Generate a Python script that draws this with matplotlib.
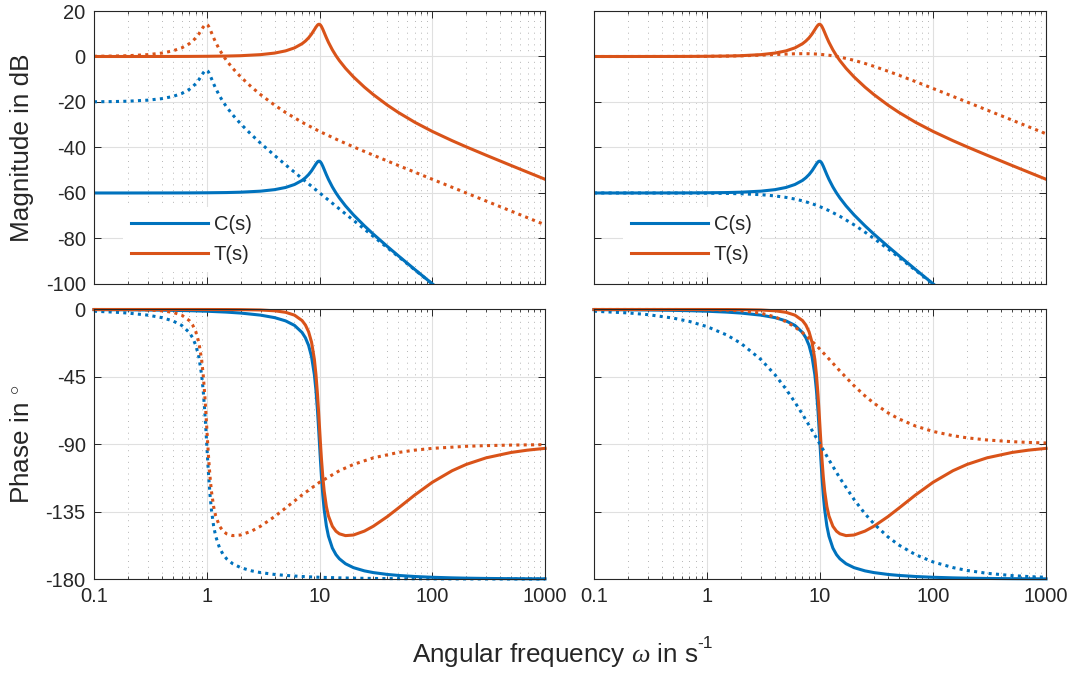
# Bode plots of C(s) and T(s), two parameter sets side by side
import numpy as np
import matplotlib
matplotlib.use('Agg')
from matplotlib import pyplot as plt
from matplotlib.ticker import FixedLocator, LogLocator, NullFormatter

# 1. Data
# solid curves (same in both columns), resonance at 10 rad/s
w_fast = [0.1, 0.2, 0.3, 0.5, 0.7, 1, 1.5, 2, 3, 4, 5, 6, 7, 7.5, 8, 8.5, 9, 9.3, 9.6, 9.8,
          10, 10.2, 10.4, 10.7, 11, 11.5, 12, 13, 14, 15, 17, 20, 25, 30, 40, 50, 70, 100,
          150, 200, 300, 500, 700, 1000]
C_mag = [-60.00, -60.00, -59.99, -59.98, -59.96, -59.91, -59.81, -59.65, -59.20, -58.53,
         -57.58, -56.27, -54.47, -53.30, -51.91, -50.25, -48.36, -47.23, -46.34, -46.02,
         -46.02, -46.36, -46.98, -48.25, -49.66, -51.96, -54.00, -57.35, -60.00, -62.18,
         -65.67, -69.62, -74.44, -78.09, -83.53, -87.61, -93.63, -99.92, -107.01, -112.02,
         -119.08, -127.96, -133.80, -140.00]
C_phase = [-0.11, -0.23, -0.34, -0.57, -0.81, -1.16, -1.76, -2.39, -3.77, -5.44,
           -7.60, -10.62, -15.35, -18.92, -23.96, -31.49, -43.45, -54.00, -67.79, -78.58,
           -90.00, -101.20, -111.42, -124.10, -133.67, -144.50, -151.39, -159.35, -163.74, -166.50,
           -169.80, -172.41, -174.56, -175.71, -176.95, -177.61, -178.33, -178.84, -179.23, -179.43,
           -179.62, -179.77, -179.84, -179.89]
T_mag = [0.00, 0.00, 0.01, 0.02, 0.04, 0.09, 0.20, 0.35, 0.82, 1.50,
         2.47, 3.79, 5.62, 6.80, 8.20, 9.87, 11.78, 12.92, 13.82, 14.15,
         14.15, 13.82, 13.20, 11.95, 10.54, 8.27, 6.24, 2.93, 0.33, -1.81,
         -5.19, -8.97, -13.47, -16.75, -21.39, -24.60, -28.92, -32.93, -37.01, -39.72,
         -43.39, -47.91, -50.86, -53.97]
T_phase = [0.00, 0.00, 0.00, 0.00, 0.00, -0.01, -0.04, -0.10, -0.34, -0.87,
           -1.88, -3.78, -7.38, -10.39, -14.87, -21.84, -33.25, -43.46, -56.92, -67.49,
           -78.69, -89.67, -99.67, -112.02, -121.26, -131.55, -137.89, -144.78, -148.10, -149.80,
           -151.02, -150.61, -148.00, -144.75, -138.29, -132.61, -123.87, -115.41, -107.67, -103.47,
           -99.08, -95.48, -93.93, -92.75]

# dotted curves, left column (resonance at 1 rad/s)
w_slow = [0.1, 0.15, 0.2, 0.3, 0.4, 0.5, 0.6, 0.7, 0.75, 0.8, 0.85, 0.9, 0.93, 0.96, 0.98,
          1.0, 1.02, 1.04, 1.07, 1.1, 1.15, 1.2, 1.3, 1.4, 1.5, 1.7, 2, 2.5, 3, 4,
          5, 7, 10, 15, 20, 30, 50, 70, 100, 200, 300, 500, 1000]
C1_mag = [-19.91, -19.81, -19.65, -19.20, -18.53, -17.58, -16.27, -14.47, -13.30, -11.91,
          -10.25, -8.36, -7.23, -6.34, -6.02, -6.02, -6.36, -6.98, -8.25, -9.66,
          -11.96, -14.00, -17.35, -20.00, -22.18, -25.67, -29.62, -34.44, -38.09, -43.53,
          -47.61, -53.63, -59.92, -67.01, -72.02, -79.08, -87.96, -93.80, -100.00, -112.04,
          -119.09, -127.96, -140.00]
C1_phase = [-1.16, -1.76, -2.39, -3.77, -5.44, -7.60, -10.62, -15.35, -18.92, -23.96,
            -31.49, -43.45, -54.00, -67.79, -78.58, -90.00, -101.20, -111.42, -124.10, -133.67,
            -144.50, -151.39, -159.35, -163.74, -166.50, -169.80, -172.41, -174.56, -175.71, -176.95,
            -177.61, -178.33, -178.84, -179.23, -179.43, -179.62, -179.77, -179.84, -179.89, -179.94,
            -179.96, -179.98, -179.99]
T1_mag = [0.09, 0.20, 0.35, 0.82, 1.50, 2.47, 3.79, 5.62, 6.80, 8.20,
          9.87, 11.78, 12.92, 13.82, 14.15, 14.15, 13.82, 13.20, 11.95, 10.54,
          8.27, 6.24, 2.93, 0.33, -1.81, -5.19, -8.97, -13.47, -16.75, -21.39,
          -24.60, -28.92, -32.93, -37.01, -39.72, -43.39, -47.91, -50.86, -53.97, -60.00,
          -63.52, -67.96, -73.98]
T1_phase = [-0.01, -0.04, -0.10, -0.34, -0.87, -1.88, -3.78, -7.38, -10.39, -14.87,
            -21.84, -33.25, -43.46, -56.92, -67.49, -78.69, -89.67, -99.67, -112.02, -121.26,
            -131.55, -137.89, -144.78, -148.10, -149.80, -151.02, -150.61, -148.00, -144.75, -138.29,
            -132.61, -123.87, -115.41, -107.67, -103.47, -99.08, -95.48, -93.93, -92.75, -91.37,
            -90.92, -90.55, -90.28]

# dotted curves, right column (well damped)
w_damp = [0.1, 0.2, 0.3, 0.5, 0.7, 1, 1.5, 2, 3, 4, 5, 6, 7, 8, 9, 10, 12, 15, 20, 25,
          30, 40, 50, 70, 100, 150, 200, 300, 500, 700, 1000]
C2_mag = [-60.00, -60.00, -60.01, -60.02, -60.04, -60.09, -60.19, -60.34, -60.75, -61.29,
          -61.94, -62.67, -63.46, -64.30, -65.15, -66.02, -67.75, -70.24, -73.98, -77.21,
          -80.00, -84.61, -88.30, -93.98, -100.09, -107.08, -112.06, -119.09, -127.96, -133.81,
          -140.00]
C2_phase = [-1.15, -2.29, -3.44, -5.72, -8.01, -11.42, -17.06, -22.62, -33.40, -43.60,
            -53.13, -61.93, -69.98, -77.32, -83.97, -90.00, -100.39, -112.62, -126.87, -136.40,
            -143.13, -151.93, -157.38, -163.74, -168.58, -172.37, -174.28, -176.18, -177.71, -178.36,
            -178.85]
T2_mag = [0.00, 0.00, 0.01, 0.02, 0.04, 0.08, 0.18, 0.30, 0.59, 0.86,
          1.07, 1.20, 1.25, 1.22, 1.12, 0.97, 0.55, -0.24, -1.68, -3.06,
          -4.32, -6.48, -8.26, -11.03, -14.06, -17.54, -20.02, -23.53, -27.96, -30.88,
          -33.98]
T2_phase = [0.00, 0.00, 0.00, -0.01, -0.04, -0.11, -0.36, -0.82, -2.43, -4.94,
            -8.13, -11.73, -15.52, -19.33, -23.03, -26.57, -33.01, -41.06, -50.91, -57.71,
            -62.59, -69.05, -73.09, -77.83, -81.44, -84.28, -85.71, -87.14, -88.28, -88.77,
            -89.14]

x_ticks = [0.1, 1, 10, 100, 1000]
x_ticklabels = ['0.1', '1', '10', '100', '1000']
mag_ticks = [-100, -80, -60, -40, -20, 0, 20]
phase_ticks = [-180, -135, -90, -45, 0]

# 2. Style (MATLAB-like)
plt.rcParams['font.family'] = ['Liberation Sans', 'DejaVu Sans']
plt.rcParams['mathtext.fontset'] = 'custom'
plt.rcParams['mathtext.rm'] = 'Liberation Sans'
plt.rcParams['mathtext.it'] = 'Liberation Serif:italic'
plt.rcParams['axes.unicode_minus'] = False

blue = '#0072BD'
orange = '#D95319'
dark = '#262626'
lw = 2.2
dots = (0, (1, 1.4))
fs_tick = 14.5
fs_label = 18.8

fig = plt.figure(figsize=(10.74, 6.75), dpi=100)
ax_mag_l = fig.add_axes([0.0875, 0.5793, 0.420, 0.4044])
ax_mag_r = fig.add_axes([0.553, 0.5793, 0.421, 0.4044])
ax_ph_l = fig.add_axes([0.0875, 0.1422, 0.420, 0.3993])
ax_ph_r = fig.add_axes([0.553, 0.1422, 0.421, 0.3993])


def setup(ax):
    ax.set_xscale('log')
    ax.set_xlim(0.1, 1000)
    ax.xaxis.set_major_locator(FixedLocator(x_ticks))
    ax.xaxis.set_minor_locator(LogLocator(base=10, subs=np.arange(2, 10)))
    ax.xaxis.set_minor_formatter(NullFormatter())
    ax.grid(True, which='major', color='#e0e0e0', lw=0.8)
    ax.grid(True, which='minor', axis='x', color='#b5b5b5', ls=(0, (1, 5)), lw=0.7)
    ax.set_axisbelow(True)
    ax.tick_params(which='both', direction='in', top=True, right=True,
                   colors=dark, labelsize=fs_tick)
    ax.tick_params(which='major', length=5, width=0.7, pad=6)
    ax.tick_params(which='minor', length=2.5, width=0.6)
    for s in ax.spines.values():
        s.set_color(dark)
        s.set_linewidth(0.8)


# 3. Magnitude plots
for ax, w_d, cd, td in [(ax_mag_l, w_slow, C1_mag, T1_mag), (ax_mag_r, w_damp, C2_mag, T2_mag)]:
    setup(ax)
    hc, = ax.plot(w_fast, C_mag, color=blue, lw=lw)
    ht, = ax.plot(w_fast, T_mag, color=orange, lw=lw)
    ax.plot(w_d, cd, color=blue, lw=lw, ls=dots)
    ax.plot(w_d, td, color=orange, lw=lw, ls=dots)
    ax.set_ylim(-100, 20)
    ax.set_yticks(mag_ticks)
    ax.set_xticklabels([])
    leg = ax.legend([hc, ht], ['C(s)', 'T(s)'], loc='lower left', bbox_to_anchor=(0.042, 0.007),
                    fontsize=fs_tick, handlelength=3.8, handletextpad=0.3, labelspacing=0.55,
                    borderpad=0.4, frameon=True, facecolor='white', edgecolor='none',
                    framealpha=1, fancybox=False)
    for t in leg.get_texts():
        t.set_color(dark)

# 4. Phase plots
for ax, w_d, cd, td in [(ax_ph_l, w_slow, C1_phase, T1_phase), (ax_ph_r, w_damp, C2_phase, T2_phase)]:
    setup(ax)
    ax.plot(w_fast, C_phase, color=blue, lw=lw, clip_on=False)
    ax.plot(w_fast, T_phase, color=orange, lw=lw, clip_on=False)
    ax.plot(w_d, cd, color=blue, lw=lw, ls=dots, clip_on=False)
    ax.plot(w_d, td, color=orange, lw=lw, ls=dots, clip_on=False)
    ax.set_ylim(-180, 0)
    ax.set_yticks(phase_ticks)
    ax.set_xticklabels(x_ticklabels)

ax_mag_r.set_yticklabels([])
ax_ph_r.set_yticklabels([])

ax_mag_l.set_ylabel('Magnitude in dB', fontsize=fs_label, color=dark)
ax_ph_l.set_ylabel('Phase in $^{\\circ}$', fontsize=fs_label, color=dark)
ax_mag_l.yaxis.set_label_coords(-0.133, 0.5)
ax_ph_l.yaxis.set_label_coords(-0.133, 0.5)

# x label with a plain hyphen in the exponent, like the original
fig.text(0.3836, 0.03, 'Angular frequency $\\omega$ in s', ha='left', va='center',
         fontsize=fs_label, color=dark)
fig.text(0.6495, 0.046, '-1', ha='left', va='center', fontsize=12.5, color=dark)

plt.savefig('out.png', dpi=100)
